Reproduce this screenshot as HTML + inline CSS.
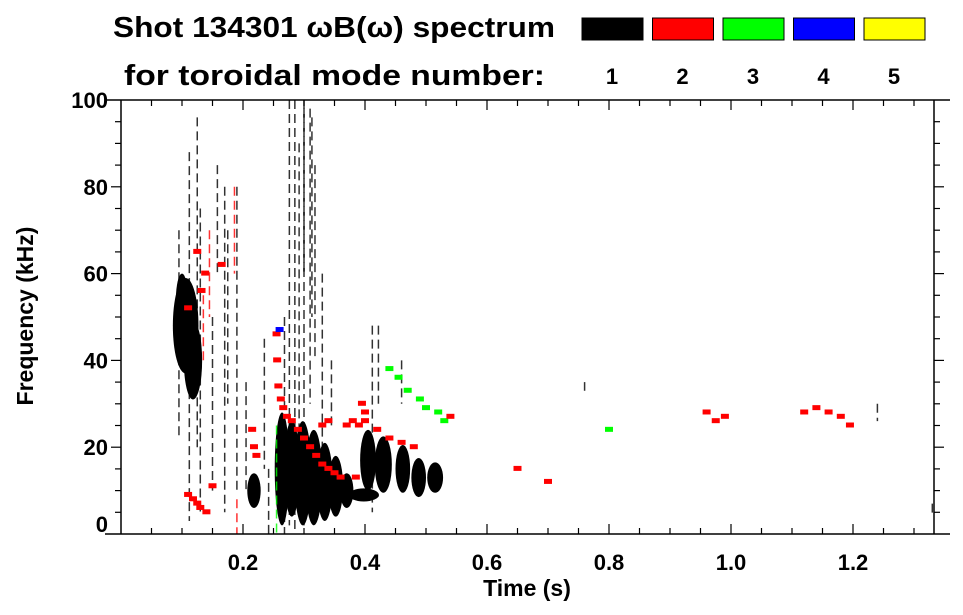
<!DOCTYPE html>
<html><head><meta charset="utf-8"><style>
body{margin:0;background:#fff;}
svg{display:block;font-family:"Liberation Sans",sans-serif;font-weight:bold;}
</style></head><body>
<svg id="chart" width="963" height="615" viewBox="0 0 963 615" xmlns="http://www.w3.org/2000/svg">
<text x="113" y="37" font-size="29" textLength="442" lengthAdjust="spacingAndGlyphs">Shot 134301 ωB(ω) spectrum</text>
<text x="124" y="85" font-size="29" textLength="421" lengthAdjust="spacingAndGlyphs">for toroidal mode number:</text>
<g id="legend"></g>
<g id="marks"></g>
<g id="axes"></g>
<text x="527" y="596" font-size="23" text-anchor="middle">Time (s)</text>
<text transform="translate(33,316) rotate(-90)" font-size="23" text-anchor="middle">Frequency (kHz)</text>
</svg>
<script>
// ---- data ----
const modeNumbers = [1, 2, 3, 4, 5];
const modeColors = ["#000000", "#ff0000", "#00ff00", "#0000ff", "#ffff00"];
const xTicks = [0.2, 0.4, 0.6, 0.8, 1.0, 1.2];
const xTickLabels = ["0.2", "0.4", "0.6", "0.8", "1.0", "1.2"];
const yTicks = [0, 20, 40, 60, 80, 100];
const yTickLabels = ["0", "20", "40", "60", "80", "100"];
// blobs: centre time, centre freq, time width, freq height, mode
const blobTime = [0.106, 0.118, 0.100, 0.218, 0.264, 0.280, 0.298, 0.316, 0.334, 0.352, 0.370, 0.398, 0.405, 0.430, 0.462, 0.488, 0.515, 0.300];
const blobFreq = [48, 40, 54, 10, 15, 15, 14, 13, 12, 11, 10, 9, 17, 16, 15, 13, 13, 10];
const blobDt = [0.042, 0.030, 0.020, 0.022, 0.024, 0.026, 0.028, 0.028, 0.026, 0.024, 0.022, 0.050, 0.026, 0.028, 0.024, 0.024, 0.026, 0.080];
const blobDf = [22, 18, 12, 8, 26, 22, 24, 22, 18, 14, 8, 3, 14, 13, 11, 9, 7, 8];
const blobMode = [1, 1, 1, 1, 1, 1, 1, 1, 1, 1, 1, 1, 1, 1, 1, 1, 1, 1];
// streaks: time, freq low, freq high, mode
const streakTime = [0.095, 0.112, 0.125, 0.130, 0.150, 0.158, 0.170, 0.175, 0.190, 0.205, 0.235, 0.242, 0.268, 0.276, 0.285, 0.292, 0.300, 0.310, 0.318, 0.330, 0.345, 0.300, 0.313, 0.135, 0.145, 0.190, 0.255, 0.412, 0.422, 0.460, 0.760, 1.240, 1.330, 0.186];
const streakFreq0 = [22, 3, 20, 5, 10, 60, 5, 30, 10, 10, 15, 0, 0, 2, 0, 5, 2, 30, 40, 20, 25, 60, 50, 40, 50, 0, 0, 5, 30, 30, 33, 26, 4, 60];
const streakFreq1 = [70, 88, 96, 75, 50, 85, 80, 70, 80, 35, 45, 15, 50, 100, 100, 90, 100, 98, 85, 60, 40, 98, 96, 55, 70, 8, 25, 48, 48, 40, 35, 30, 7, 80];
const streakMode = [1, 1, 1, 1, 1, 1, 1, 1, 1, 1, 1, 1, 1, 1, 1, 1, 1, 1, 1, 1, 1, 1, 1, 2, 2, 2, 3, 1, 1, 1, 1, 1, 1, 2];
// point marks: time, freq, mode
const ptTime = [0.255, 0.256, 0.258, 0.262, 0.266, 0.272, 0.280, 0.290, 0.300, 0.310, 0.320, 0.330, 0.340, 0.350, 0.360, 0.370, 0.380, 0.390, 0.400, 0.420, 0.440, 0.460, 0.480, 0.400, 0.330, 0.340, 0.385, 0.395, 0.215, 0.218, 0.222, 0.110, 0.118, 0.125, 0.130, 0.140, 0.150, 0.165, 0.125, 0.132, 0.138, 0.110, 0.960, 0.975, 0.990, 1.120, 1.140, 1.160, 1.180, 1.195, 0.440, 0.455, 0.470, 0.490, 0.500, 0.520, 0.530, 0.800, 0.260, 0.540, 0.700, 0.650];
const ptFreq = [46, 40, 34, 31, 29, 27, 26, 24, 22, 20, 18, 16, 15, 14, 13, 25, 26, 25, 26, 24, 22, 21, 20, 28, 25, 26, 13, 30, 24, 20, 18, 9, 8, 7, 6, 5, 11, 62, 65, 56, 60, 52, 28, 26, 27, 28, 29, 28, 27, 25, 38, 36, 33, 31, 29, 28, 26, 24, 47, 27, 12, 15];
const ptMode = [2, 2, 2, 2, 2, 2, 2, 2, 2, 2, 2, 2, 2, 2, 2, 2, 2, 2, 2, 2, 2, 2, 2, 2, 2, 2, 2, 2, 2, 2, 2, 2, 2, 2, 2, 2, 2, 2, 2, 2, 2, 2, 2, 2, 2, 2, 2, 2, 2, 2, 3, 3, 3, 3, 3, 3, 3, 3, 4, 2, 2, 2];

// ---- scales ----
const X0 = 121, X1 = 934, Y0 = 534, Y1 = 100;
const tMin = 0, tMax = (X1 - X0) / 610, fMin = 0, fMax = 100;
const xs = t => X0 + (t - tMin) / (tMax - tMin) * (X1 - X0);
const ys = f => Y0 - (f - fMin) / (fMax - fMin) * (Y0 - Y1);
const NS = "http://www.w3.org/2000/svg";
function mk(tag, attrs, parent) {
  const e = document.createElementNS(NS, tag);
  for (const k in attrs) e.setAttribute(k, attrs[k]);
  parent.appendChild(e);
  return e;
}
const marks = document.getElementById("marks");
const axes = document.getElementById("axes");
const legend = document.getElementById("legend");

// legend
modeNumbers.forEach((m, i) => {
  const bx = 582 + i * 70.5;
  const r = mk("rect", {x: bx, y: 18, width: 61, height: 22, fill: modeColors[i], stroke: "#000", "stroke-width": 1}, legend);
  
  
  const t = mk("text", {x: bx + 30, y: 84, "font-size": 22, "text-anchor": "middle"}, legend);
  t.textContent = String(m);
  
  
});

// blobs
blobTime.forEach((t, i) => {
  const cx = xs(t), cy = ys(blobFreq[i]);
  const rx = (xs(t + blobDt[i] / 2) - xs(t - blobDt[i] / 2)) / 2;
  const ry = (ys(blobFreq[i] - blobDf[i] / 2) - ys(blobFreq[i] + blobDf[i] / 2)) / 2;
  const e = mk("ellipse", {cx: cx, cy: cy, rx: rx, ry: ry, fill: modeColors[blobMode[i] - 1]}, marks);
  
  
});
// streaks
streakTime.forEach((t, i) => {
  const e = mk("line", {x1: xs(t), y1: ys(streakFreq1[i]), x2: xs(t), y2: ys(streakFreq0[i]), stroke: modeColors[streakMode[i] - 1], "stroke-width": 1.5, "stroke-dasharray": "9 5", opacity: 0.8}, marks);
  
  
});
// points
ptTime.forEach((t, i) => {
  const e = mk("rect", {x: xs(t) - 4, y: ys(ptFreq[i]) - 3, width: 8, height: 5, fill: modeColors[ptMode[i] - 1]}, marks);
  
  
});

// axes frame
mk("line", {x1: 105, y1: Y0, x2: 950, y2: Y0, stroke: "#000", "stroke-width": 1.5}, axes);
mk("line", {x1: 105, y1: Y1, x2: 950, y2: Y1, stroke: "#000", "stroke-width": 1.5}, axes);
mk("line", {x1: X0, y1: Y1, x2: X0, y2: Y0, stroke: "#000", "stroke-width": 1.5}, axes);
mk("line", {x1: X1, y1: Y1, x2: X1, y2: Y0, stroke: "#000", "stroke-width": 1.5}, axes);
for (let k = 1; k * 0.05 < tMax; k++) {
  const x = xs(k * 0.05), len = k % 4 === 0 ? 10 : 6;
  mk("line", {x1: x, y1: Y0, x2: x, y2: Y0 - len, stroke: "#000", "stroke-width": 1.2}, axes);
  mk("line", {x1: x, y1: Y1, x2: x, y2: Y1 + len, stroke: "#000", "stroke-width": 1.2}, axes);
}
for (let k = 1; k < 20; k++) {
  const y = ys(k * 5), len = k % 4 === 0 ? 10 : 6;
  mk("line", {x1: X0, y1: y, x2: X0 - len, y2: y, stroke: "#000", "stroke-width": 1.2}, axes);
  mk("line", {x1: X1, y1: y, x2: X1 + len, y2: y, stroke: "#000", "stroke-width": 1.2}, axes);
}
xTicks.forEach((v, i) => {
  const t = mk("text", {x: xs(v), y: 570, "font-size": 22, "text-anchor": "middle"}, axes);
  t.textContent = xTickLabels[i];
  
  
});
yTicks.forEach((v, i) => {
  const t = mk("text", {x: 108, y: Math.min(ys(v) + 8, 532), "font-size": 22, "text-anchor": "end"}, axes);
  t.textContent = yTickLabels[i];
  
  
});
</script>
</body></html>
